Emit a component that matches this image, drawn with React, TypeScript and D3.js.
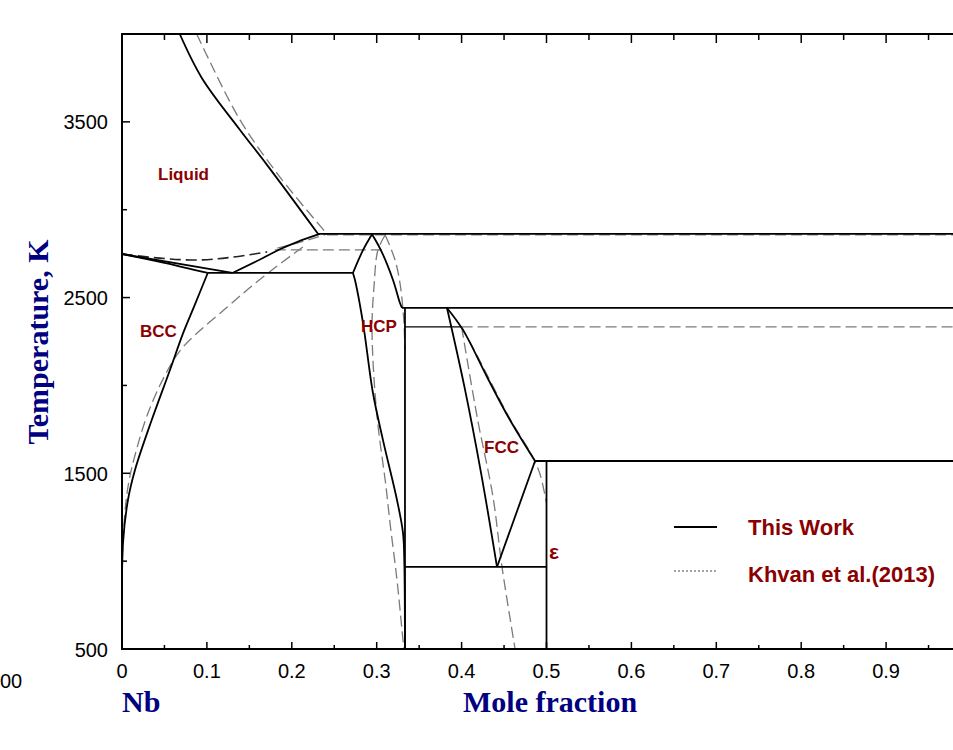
import React from "react";
import * as d3 from "d3";

type P = [number, number];

// ---- Axis ticks ----
const xMajorTicks = [0, 0.1, 0.2, 0.3, 0.4, 0.5, 0.6, 0.7, 0.8, 0.9];
const xTickLabels = ["0", "0.1", "0.2", "0.3", "0.4", "0.5", "0.6", "0.7", "0.8", "0.9"];
const xMinorTicks = [0.05, 0.15, 0.25, 0.35, 0.45, 0.55, 0.65, 0.75, 0.85, 0.95];
const yMajorTicks = [500, 1500, 2500, 3500];
const yTickLabels = ["500", "1500", "2500", "3500"];
const yMinorTicks = [1000, 2000, 3000];

// ---- This Work (solid lines) ----
const twLiquidUpper: P[] = [[0.068, 4000], [0.094, 3750], [0.139, 3454], [0.171, 3254], [0.231, 2862]];
const twInvariantTop: P[] = [[0.231, 2862], [1, 2862]];
const twBccLiquidus: P[] = [[0, 2748], [0.13, 2640]];
const twBccSolidus: P[] = [[0, 2748], [0.05, 2698], [0.101, 2640]];
const twLiquidToHcp: P[] = [[0.13, 2640], [0.166, 2725], [0.186, 2775], [0.206, 2816], [0.233, 2862]];
const twEutectic: P[] = [[0.101, 2640], [0.272, 2640]];
const twBccSolvus: P[] = [[0.101, 2640], [0.085, 2450], [0.072, 2298], [0.0565, 2088], [0.035, 1803], [0.0153, 1519], [0.007, 1348], [0.0012, 1103], [0, 722]];
const twHcpUpperLeft: P[] = [[0.272, 2640], [0.284, 2771], [0.2945, 2860]];
const twHcpRight: P[] = [[0.2945, 2860], [0.306, 2759], [0.3192, 2600], [0.3274, 2469], [0.3298, 2441]];
const twHcpLeft: P[] = [[0.272, 2640], [0.2744, 2600], [0.2839, 2355], [0.2956, 1957], [0.3074, 1689], [0.3239, 1348], [0.331, 1160], [0.3325, 1000], [0.3333, 500]];
const twCompound: P[] = [[0.3333, 2441], [0.3333, 500]];
const twPeritectic: P[] = [[0.3298, 2441], [1, 2441]];
const twFccLeft: P[] = [[0.3828, 2441], [0.403, 2000], [0.423, 1500], [0.4417, 967]];
const twFccRight: P[] = [[0.3828, 2441], [0.4016, 2316], [0.43, 2048], [0.457, 1803], [0.4865, 1570]];
const twFccToEps: P[] = [[0.4865, 1570], [0.4417, 967]];
const twEpsHorizontal: P[] = [[0.4865, 1570], [1, 1570]];
const twEpsVertical: P[] = [[0.5, 1570], [0.5, 500]];
const twEutectoid: P[] = [[0.3333, 967], [0.5, 967]];
const twShortTie: P[] = [[0.3333, 2333], [0.4, 2333]];

// ---- Khvan et al. (2013) (dashed lines) ----
const khLiquidUpper: P[] = [[0.088, 4000], [0.098, 3898], [0.139, 3511], [0.186, 3186], [0.2415, 2862]];
const khInvariantTop: P[] = [[0.2415, 2857], [1, 2857]];
const khBccLiquidus: P[] = [[0, 2748], [0.05, 2722], [0.092, 2714], [0.13, 2730], [0.171, 2760]];
const khLiquidLower: P[] = [[0.183, 2782], [0.21, 2815], [0.2415, 2862]];
const khEutectic: P[] = [[0.18, 2771], [0.306, 2771]];
const khBccSolvus: P[] = [[0.213, 2788], [0.166, 2617], [0.124, 2446], [0.072, 2219], [0.054, 2088], [0.032, 1860], [0.017, 1633], [0.007, 1422], [0.0012, 1120], [0, 780]];
const khHcpLeft: P[] = [[0.31, 2856], [0.3015, 2771], [0.2968, 2560], [0.2945, 2316], [0.3, 1843], [0.311, 1422], [0.3157, 1217], [0.3239, 893], [0.3298, 608], [0.332, 500]];
const khHcpRight: P[] = [[0.31, 2856], [0.3216, 2714], [0.3274, 2583], [0.331, 2429], [0.3325, 2316], [0.3333, 2200]];
const khPeritectic: P[] = [[0.4, 2333], [1, 2333]];
const khFccLeft: P[] = [[0.4, 2333], [0.419, 1803], [0.437, 1365], [0.4476, 967], [0.463, 500]];
const khFccRight: P[] = [[0.4, 2333], [0.415, 2200], [0.43, 2060], [0.457, 1810], [0.483, 1600], [0.492, 1500], [0.498, 1380], [0.5, 1330]];

const thisWork = [twLiquidUpper, twInvariantTop, twBccLiquidus, twBccSolidus, twLiquidToHcp, twEutectic, twBccSolvus,
  twHcpUpperLeft, twHcpRight, twHcpLeft, twCompound, twPeritectic, twFccLeft, twFccRight, twFccToEps,
  twEpsHorizontal, twEpsVertical, twEutectoid];
const khvanGray = [khLiquidUpper, khInvariantTop, khLiquidLower, khEutectic, khBccSolvus, khHcpLeft, khHcpRight,
  khPeritectic, khFccLeft, khFccRight];
const khvanDark = [khBccLiquidus];

const W = 953;
const H = 750;
const LEFT = 122;
const TOP = 34;
const BOTTOM = 649;

export default function App() {
  const x = d3.scaleLinear().domain([0, 1]).range([LEFT, 971]);
  const y = d3.scaleLinear().domain([500, 4000]).range([BOTTOM, TOP]);
  const curved = d3.line<P>().x((d) => x(d[0])).y((d) => y(d[1])).curve(d3.curveCatmullRom.alpha(0.5));

  const sans = "'Liberation Sans', Arial, sans-serif";
  const serif = "'Liberation Serif', 'Times New Roman', serif";
  const red = "#8b0000";
  const navy = "#000080";

  return (
    <svg width={W} height={H} style={{ position: "absolute", left: 0, top: 0, background: "#fff" }}>
      <rect x={0} y={0} width={W} height={H} fill="#fff" />
      <defs>
        <clipPath id="plot">
          <rect x={LEFT} y={TOP} width={W - LEFT} height={BOTTOM - TOP} />
        </clipPath>
      </defs>

      <g clipPath="url(#plot)" fill="none">
        {khvanGray.map((d, i) => (
          <path key={"kg" + i} d={curved(d) || ""} stroke="#7a7a7a" strokeWidth={1.3} strokeDasharray="11,5" />
        ))}
        {khvanDark.map((d, i) => (
          <path key={"kd" + i} d={curved(d) || ""} stroke="#222" strokeWidth={1.6} strokeDasharray="11,5" />
        ))}
        {thisWork.map((d, i) => (
          <path key={"tw" + i} d={curved(d) || ""} stroke="#000" strokeWidth={1.8} strokeLinejoin="round" />
        ))}
        <path d={curved(twShortTie) || ""} stroke="#000" strokeWidth={1.1} />
      </g>

      {/* frame */}
      <g stroke="#000" strokeWidth={2} fill="none">
        <line x1={LEFT} y1={TOP} x2={W} y2={TOP} />
        <line x1={LEFT} y1={BOTTOM} x2={W} y2={BOTTOM} />
        <line x1={LEFT} y1={TOP - 1} x2={LEFT} y2={BOTTOM + 1} />
      </g>

      {/* ticks */}
      <g stroke="#000" strokeWidth={1.5}>
        {xMajorTicks.map((t) => (
          <g key={"xm" + t}>
            <line x1={x(t)} x2={x(t)} y1={BOTTOM} y2={BOTTOM - 7} />
            <line x1={x(t)} x2={x(t)} y1={TOP} y2={TOP + 9} />
          </g>
        ))}
        {xMinorTicks.map((t) => (
          <g key={"xn" + t}>
            <line x1={x(t)} x2={x(t)} y1={BOTTOM} y2={BOTTOM - 4} />
            <line x1={x(t)} x2={x(t)} y1={TOP} y2={TOP + 6} />
          </g>
        ))}
        {yMajorTicks.map((t) => (
          <line key={"ym" + t} x1={LEFT} x2={LEFT + 8} y1={y(t)} y2={y(t)} />
        ))}
        {yMinorTicks.map((t) => (
          <line key={"yn" + t} x1={LEFT} x2={LEFT + 5} y1={y(t)} y2={y(t)} />
        ))}
      </g>

      {/* tick labels */}
      <g fontFamily={sans} fontSize={20} fill="#000">
        {xMajorTicks.map((t, i) => (
          <text key={"xl" + t} x={x(t)} y={678} textAnchor="middle">{xTickLabels[i]}</text>
        ))}
        {yMajorTicks.map((t, i) => (
          <text key={"yl" + t} x={108} y={y(t) + 7.5} textAnchor="end">{yTickLabels[i]}</text>
        ))}
        <text x={0} y={688}>00</text>
      </g>

      {/* axis titles */}
      <g fontFamily={serif} fontWeight="bold" fontSize={30} fill={navy}>
        <text transform="translate(48,342) rotate(-90)" textAnchor="middle">Temperature, K</text>
        <text x={122} y={712}>Nb</text>
        <text x={463} y={712}>Mole fraction</text>
      </g>

      {/* region labels */}
      <g fontFamily={sans} fontWeight="bold" fontSize={17} fill={red}>
        <text x={158} y={180}>Liquid</text>
        <text x={140} y={337}>BCC</text>
        <text x={361} y={332}>HCP</text>
        <text x={484} y={453}>FCC</text>
        <text x={549} y={559} fontSize={21}>ε</text>
      </g>

      {/* legend */}
      <line x1={674} x2={717} y1={527} y2={527} stroke="#000" strokeWidth={2} />
      <line x1={674} x2={717} y1={571} y2={571} stroke="#888" strokeWidth={1.5} strokeDasharray="2,2" />
      <g fontFamily={sans} fontWeight="bold" fontSize={22} fill={red}>
        <text x={748} y={535}>This Work</text>
        <text x={748} y={582}>Khvan et al.(2013)</text>
      </g>
    </svg>
  );
}
